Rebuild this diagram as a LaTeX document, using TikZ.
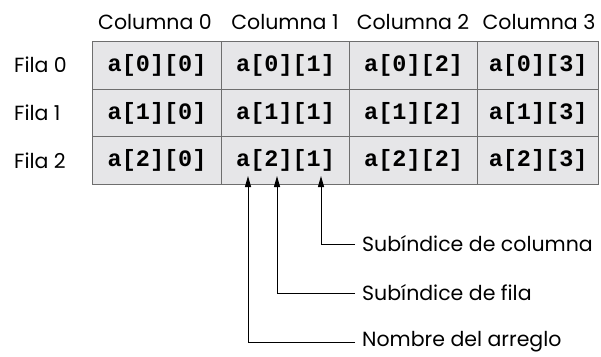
\documentclass[tikz,border=0pt]{standalone}
\usepackage{fontspec}
\setmainfont{Poppins}
\newfontfamily\cellfont{Liberation Mono}
\usetikzlibrary{arrows.meta}
\definecolor{cellfill}{HTML}{E6E6E8}
\definecolor{cellline}{HTML}{6E6E6E}
\begin{document}
\begin{tikzpicture}[x=1pt,y=-1pt,
  cellbox/.style={draw=cellline,line width=1.2pt,fill=cellfill,minimum height=48pt,inner sep=0pt,anchor=north west,font=\cellfont\bfseries\fontsize{23.5}{24}\selectfont},
  lbl/.style={font=\fontsize{20.5}{22}\selectfont,inner sep=0pt},
  ptr/.style={line width=1pt,-{Triangle[length=11pt,width=6pt]}}]
\useasboundingbox (0,0) rectangle (601,356);
% column headers
\node[lbl] (h0) at (155,22) {Columna 0};
\node[lbl] (h1) at (285,22) {Columna 1};
\node[lbl] (h2) at (413,22) {Columna 2};
\node[lbl] (h3) at (539,22) {Columna 3};
% row labels
\node[lbl,anchor=west] (r0) at (14,65) {Fila 0};
\node[lbl,anchor=west] (r1) at (14,113) {Fila 1};
\node[lbl,anchor=west] (r2) at (14,161) {Fila 2};
% cells
\foreach \r/\y in {0/41,1/88.5,2/136}{
  \node[cellbox,minimum width=129pt] (c\r0) at (92,\y) {a[\r][0]};
  \node[cellbox,minimum width=128pt] (c\r1) at (221,\y) {a[\r][1]};
  \node[cellbox,minimum width=128pt] (c\r2) at (349,\y) {a[\r][2]};
  \node[cellbox,minimum width=121pt] (c\r3) at (477,\y) {a[\r][3]};
}
% pointers
\coordinate (tn) at (248,176);
\coordinate (tf) at (277,176);
\coordinate (tc) at (321,176);
\node[lbl,anchor=west] (lc) at (362,244) {Subíndice de columna};
\node[lbl,anchor=west] (lf) at (362,293) {Subíndice de fila};
\node[lbl,anchor=west] (ln) at (362,342) {Nombre del arreglo};
\draw[ptr] ([xshift=-7pt]lc.west) -| (tc);
\draw[ptr] ([xshift=-7pt]lf.west) -| (tf);
\draw[ptr] ([xshift=-7pt]ln.west) -| (tn);
\end{tikzpicture}
\end{document}
